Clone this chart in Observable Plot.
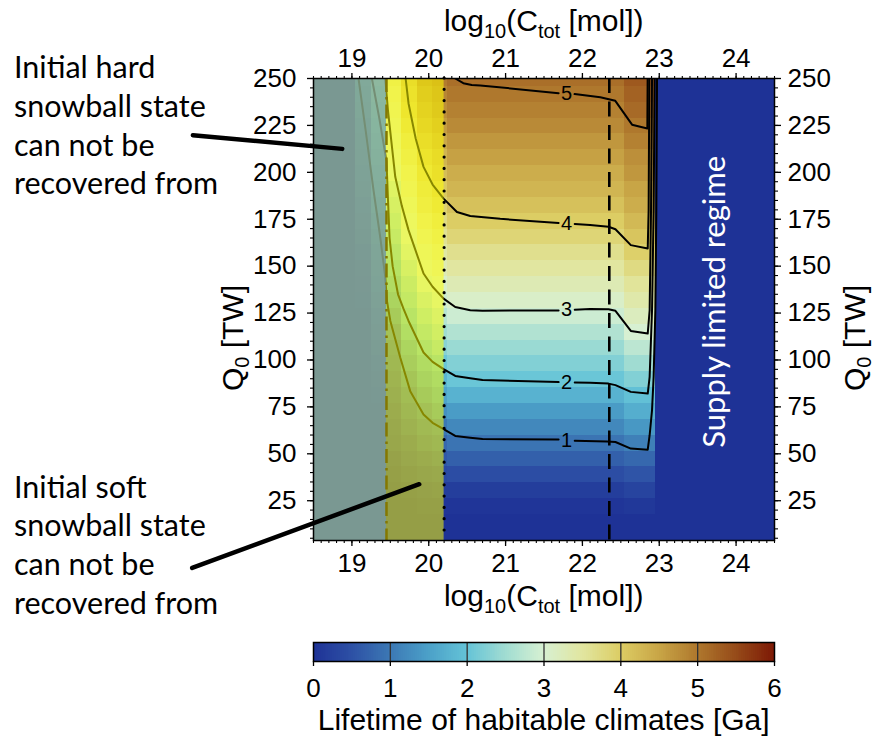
<!DOCTYPE html>
<html>
<head>
<meta charset="utf-8">
<script src="https://cdn.jsdelivr.net/npm/d3@7"></script>
<script src="https://cdn.jsdelivr.net/npm/@observablehq/plot@0.6"></script>
<style>
  body { margin: 0; background: #fff; }
  #wrap { position: relative; width: 874px; height: 742px; background: #fff; overflow: hidden; }
  #wrap svg { position: absolute; left: 0; overflow: visible; }
</style>
</head>
<body>
<div id="wrap"></div>
<script>
// ---------------- data ----------------
// Q0 grid (row centres, TW)
const qRows = [5, 13.45, 21.9, 30.34, 38.79, 47.24, 55.69, 64.14, 72.59, 81.03,
  89.48, 97.93, 106.38, 114.83, 123.28, 131.72, 140.17, 148.62, 157.07, 165.52,
  173.97, 182.41, 190.86, 199.31, 207.76, 216.21, 224.66, 233.1, 241.55, 250];
const qHalf = 4.224;

// column edges in log10(Ctot)
const colEdges = [18.45, 19.05, 19.25, 19.45, 19.65, 19.85, 20.05, 20.25, 22.55, 22.75, 22.95, 24.55];

// lifetime [Ga] per row, one array per column (group)
const lifeFarLeft = [0,0,0,0,0,0,0,0,0,0,0,0,0,0,0,0,0,0,0,0,0,0,0,0,0,0,0,0,0,0];
const life19_15 = [0,0,0,0,0,0,0,0,0,0,0,0,0,0,0.05,0.1,0.15,0.2,0.3,0.4,0.5,0.6,0.7,0.75,0.85,0.9,0.97,1.05,1.1,1.2];
const life19_35 = [0,0,0,0,0,0,0,0,0,0.1,0.2,0.3,0.4,0.5,0.6,0.7,0.8,0.9,0.95,1.05,1.2,1.35,1.5,1.6,1.7,1.85,1.95,2.05,2.15,2.25];
const life19_55 = [0,0,0,0,0.05,0.15,0.3,0.4,0.5,0.6,0.7,0.8,0.9,1.05,1.3,1.55,1.8,2.0,2.15,2.3,2.45,2.6,2.75,2.95,3.1,3.2,3.3,3.4,3.5,3.6];
const life19_75 = [0,0,0,0.05,0.2,0.35,0.5,0.65,0.8,0.95,1.15,1.4,1.6,1.85,2.05,2.25,2.4,2.6,2.8,2.95,3.1,3.25,3.4,3.5,3.65,3.75,3.9,4.05,4.15,4.25];
const life19_95 = [0,0,0.05,0.15,0.3,0.5,0.7,0.85,1.05,1.3,1.55,1.8,2.05,2.25,2.45,2.65,2.9,3.1,3.25,3.4,3.55,3.7,3.8,3.95,4.1,4.25,4.4,4.55,4.65,4.8];
const life20_15 = [0,0,0.05,0.2,0.4,0.6,0.8,1.0,1.3,1.55,1.8,2.05,2.3,2.5,2.7,2.9,3.1,3.3,3.45,3.6,3.75,3.9,4.05,4.2,4.3,4.45,4.6,4.75,4.85,4.95];
const lifePlateau = [0,0,0.05,0.2,0.45,0.7,0.95,1.2,1.45,1.75,2.05,2.25,2.45,2.65,2.9,3.1,3.3,3.5,3.65,3.85,4.0,4.15,4.3,4.4,4.55,4.65,4.8,4.9,5.0,5.1];
const lifeEdge = [0,0,0.1,0.3,0.55,0.8,1.1,1.4,1.7,1.95,2.25,2.5,2.75,3.0,3.2,3.4,3.55,3.75,3.95,4.1,4.25,4.4,4.5,4.65,4.75,4.9,5.0,5.15,5.25,5.35];
const lifeSupply = [0,0,0,0,0,0,0,0,0,0,0,0,0,0,0,0,0,0,0,0,0,0,0,0,0,0,0,0,0,0];
const columnLife = [lifeFarLeft, life19_15, life19_35, life19_55, life19_75, life19_95, life20_15,
  lifePlateau, lifeEdge, lifeEdge, lifeSupply];

// contour lines (log10 Ctot, Q0), split where the inline label sits
const c1a = [[19.086,250],[19.18,222],[19.281,190.5],[19.37,165],[19.434,144.3],[19.456,131.5],[19.5,120.8],[19.629,101.3],[19.759,83.4],[19.932,71.0],[20.05,66.5],[20.193,63.1],[20.345,59.5],[20.54,58.6],[20.7,57.9],[21.69,57.6]];
const c1b = [[21.9,57.0],[22.32,56.5],[22.43,56.3],[22.63,52.8],[22.85,52.2],[22.875,59.9],[22.906,73.2],[22.927,91.0],[22.949,126.5],[22.962,179.8],[22.971,250]];
const c2a = [[19.26,250],[19.36,228],[19.45,206],[19.47,185],[19.49,165],[19.53,150],[19.6,135],[19.672,127.2],[19.737,120.8],[19.932,104.0],[20.05,99.0],[20.193,95.1],[20.345,91.5],[20.54,90.3],[20.7,89.3],[21.69,88.2]];
const c2b = [[21.9,88.0],[22.1,87.8],[22.34,87.4],[22.43,86.6],[22.63,83.0],[22.85,82.1],[22.875,91.0],[22.906,126.5],[22.927,179.8],[22.94,250]];
const c3a = [[19.434,250],[19.469,233],[19.564,197.6],[19.65,182],[19.737,169.2],[19.932,146.1],[20.05,139],[20.193,132.7],[20.345,128.2],[20.54,126.5],[20.7,126.3],[21.69,126.4]];
const c3b = [[21.9,126.8],[22.1,127.2],[22.34,127.0],[22.43,126.2],[22.63,115.5],[22.85,114.1],[22.875,126.5],[22.893,179.9],[22.906,250]];
const c4a = [[19.699,250],[19.737,236.7],[19.83,218],[19.932,202.9],[20.05,193.5],[20.193,186.0],[20.367,178.9],[20.54,176.7],[20.93,175.2],[21.69,173.0]];
const c4b = [[21.9,172.5],[22.1,171.9],[22.34,171.0],[22.43,169.7],[22.63,161.2],[22.85,159.4],[22.862,179.9],[22.871,250]];
const c5a = [[20.345,250],[20.45,247.5],[20.56,246.5],[20.67,246.3],[21.69,242.2]];
const c5b = [[21.898,241.7],[22.233,240.0],[22.428,238.1],[22.646,225.4],[22.845,223.4],[22.849,250]];
const contourSegments = [c1a, c1b, c2a, c2b, c3a, c3b, c4a, c4b, c5a, c5b];

const contourLevels = [1, 2, 3, 4, 5];
const contourLabelX = [21.795, 21.795, 21.795, 21.795, 21.795];
const contourLabelQ = [57.3, 88.1, 126.6, 172.8, 242.0];

// regions and reference lines
const hardRegion = [18.5, 19.45];
const softRegion = [19.45, 20.2];
const dashDotX = [19.45];
const dottedX = [20.2];
const dashedX = [22.35];
const supplyLabelPos = [23.725, 131];

// pointer lines for the annotations
const pointerHard = [[16.93, 219.8], [18.874, 212.5]];
const pointerSoft = [[16.921, -10.8], [19.876, 33.8]];

// axis ticks
const xTicks = [19, 20, 21, 22, 23, 24];
const yTicks = [25, 50, 75, 100, 125, 150, 175, 200, 225, 250];
const cbTicks = [0, 1, 2, 3, 4, 5, 6];

// colour bar stops
const cbStops = [0, 0.5, 1, 1.5, 2, 2.5, 3, 3.5, 4, 4.5, 5, 5.5, 6];
const cbColors = ["#1e3296", "#2d50a5", "#3c78b4", "#4ba0c8", "#64c3d7", "#a0dcd2", "#d7f0d2",
  "#e1e6a0", "#dccd64", "#c8a546", "#af782d", "#964b19", "#7d1905"];

// ---------------- build tables ----------------
const cells = [];
columnLife.forEach((arr, ci) => {
  arr.forEach((L, ri) => {
    cells.push({x1: colEdges[ci], x2: colEdges[ci + 1], y1: qRows[ri] - qHalf, y2: qRows[ri] + qHalf, L});
  });
});
const contourPts = [];
contourSegments.forEach((seg, si) => seg.forEach(([x, q]) => contourPts.push({x, q, seg: si})));
const contourLabels = contourLevels.map((lv, i) => ({x: contourLabelX[i], q: contourLabelQ[i], t: String(lv)}));
const pointerPts = [
  ...pointerHard.map(([x, q]) => ({x, q, id: "hard"})),
  ...pointerSoft.map(([x, q]) => ({x, q, id: "soft"}))
];
const yDomain = [3.8, 250];
const colorScale = {type: "linear", domain: cbStops, range: cbColors, interpolate: "rgb"};
const font = "'Liberation Sans', Arial, Helvetica, sans-serif";
const noteFont = "Lato, 'Open Sans', sans-serif";

const minorX = d3.range(185, 246).map(d => d / 10);
const minorY = d3.range(1, 51).map(d => d * 5);

const main = Plot.plot({
  width: 874, height: 620,
  marginLeft: 313, marginRight: 100, marginTop: 78, marginBottom: 80,
  x: {domain: [18.5, 24.5]},
  y: {domain: yDomain},
  color: colorScale,
  style: {fontFamily: font, fontSize: "26px", background: "white", color: "black", overflow: "visible"},
  marks: [
    Plot.rect(cells, {x1: "x1", x2: "x2", y1: "y1", y2: "y2", fill: "L", clip: true, shapeRendering: "crispEdges"}),
    Plot.line(contourPts, {x: "x", y: "q", z: "seg", stroke: "black", strokeWidth: 2, clip: true}),
    Plot.text(contourLabels, {x: "x", y: "q", text: "t", fontSize: 20, fill: "black", fontFamily: font}),
    Plot.rect([hardRegion], {x1: d => d[0], x2: d => d[1], y1: yDomain[0], y2: yDomain[1], fill: "#91b291", fillOpacity: 0.8}),
    Plot.rect([softRegion], {x1: d => d[0], x2: d => d[1], y1: yDomain[0], y2: yDomain[1], fill: "#ffff00", fillOpacity: 0.53}),
    Plot.ruleX(dashDotX, {stroke: "#857800", strokeWidth: 2.5, strokeDasharray: "14,5,2.5,5"}),
    Plot.ruleX(dottedX, {stroke: "black", strokeWidth: 3.2, strokeDasharray: "0,11.3", strokeLinecap: "round"}),
    Plot.ruleX(dashedX, {stroke: "black", strokeWidth: 2.6, strokeDasharray: "15,8.5"}),
    Plot.text([supplyLabelPos], {x: d => d[0], y: d => d[1], text: () => "Supply limited regime", rotate: -90,
      fill: "white", fontSize: 31, fontFamily: noteFont}),
    Plot.frame({stroke: "black", strokeWidth: 1.5}),
    Plot.axisX(xTicks, {anchor: "bottom", tickSize: 6, tickPadding: 7, fontSize: 26, label: null, strokeWidth: 1.3}),
    Plot.axisX(minorX, {anchor: "bottom", tickSize: 3, tickFormat: () => "", label: null, strokeWidth: 1.1}),
    Plot.axisX(xTicks, {anchor: "top", tickSize: 6, tickPadding: 6, fontSize: 26, label: null, strokeWidth: 1.3}),
    Plot.axisX(minorX, {anchor: "top", tickSize: 3, tickFormat: () => "", label: null, strokeWidth: 1.1}),
    Plot.axisY(yTicks, {anchor: "left", tickSize: 6, tickPadding: 11, fontSize: 26, label: null, strokeWidth: 1.3}),
    Plot.axisY(minorY, {anchor: "left", tickSize: 3, tickFormat: () => "", label: null, strokeWidth: 1.1}),
    Plot.axisY(yTicks, {anchor: "right", tickSize: 6, tickPadding: 7, fontSize: 26, label: null, strokeWidth: 1.3}),
    Plot.axisY(minorY, {anchor: "right", tickSize: 3, tickFormat: () => "", label: null, strokeWidth: 1.1}),
    Plot.line(pointerPts, {x: "x", y: "q", z: "id", stroke: "black", strokeWidth: 4.5})
  ]
});
main.style.top = "0px";

// extra text: axis titles with subscripts, annotations
const svg = d3.select(main);
function ctotLabel(y) {
  const t = svg.append("text").attr("x", 543.7).attr("y", y).attr("text-anchor", "middle")
    .attr("font-family", font).attr("font-size", 30).attr("fill", "black");
  t.append("tspan").text("log");
  t.append("tspan").attr("font-size", 20).attr("dy", 7).text("10");
  t.append("tspan").attr("dy", -7).text("(C");
  t.append("tspan").attr("font-size", 20).attr("dy", 7).text("tot");
  t.append("tspan").attr("dy", -7).text(" [mol])");
}
ctotLabel(31);
ctotLabel(606);
function qLabel(x, y) {
  const t = svg.append("text").attr("transform", `translate(${x},${y}) rotate(-90)`).attr("text-anchor", "middle")
    .attr("font-family", font).attr("font-size", 30).attr("fill", "black");
  t.append("tspan").text("Q");
  t.append("tspan").attr("font-size", 20).attr("dy", 6).text("0");
  t.append("tspan").attr("dy", -6).text(" [TW]");
}
qLabel(243, 338);
qLabel(865, 338);

const noteHard = ["Initial hard", "snowball state", "can not be", "recovered from"];
const noteSoft = ["Initial soft", "snowball state", "can not be", "recovered from"];
function note(lines, y0) {
  lines.forEach((s, i) => {
    svg.append("text").attr("x", 14).attr("y", y0 + i * 38.8).attr("text-anchor", "start")
      .attr("font-family", noteFont).attr("font-size", 30.5).attr("fill", "black").text(s);
  });
}
note(noteHard, 78);
note(noteSoft, 497.5);

// ---------------- colour bar ----------------
const ramp = d3.range(0, 240).map(i => ({a: i * 6 / 240, b: (i + 1) * 6 / 240, v: (i + 0.5) * 6 / 240}));
const cb = Plot.plot({
  width: 874, height: 122,
  marginLeft: 313, marginRight: 100, marginTop: 22, marginBottom: 81,
  x: {domain: [0, 6]},
  y: {domain: [0, 1], axis: null},
  color: colorScale,
  style: {fontFamily: font, fontSize: "26px", background: "white", color: "black", overflow: "visible"},
  marks: [
    Plot.rect(ramp, {x1: "a", x2: "b", y1: 0, y2: 1, fill: "v", shapeRendering: "crispEdges"}),
    Plot.ruleX(cbTicks.slice(1, -1), {y1: 0, y2: 1, stroke: "#333", strokeWidth: 1.3}),
    Plot.frame({stroke: "black", strokeWidth: 1.5}),
    Plot.axisX(cbTicks, {anchor: "bottom", tickSize: 5, tickPadding: 12, fontSize: 26, label: null, strokeWidth: 1.3})
  ]
});
cb.style.top = "620px";
d3.select(cb).append("text").attr("x", 543.7).attr("y", 110).attr("text-anchor", "middle")
  .attr("font-family", font).attr("font-size", 30).attr("fill", "black").text("Lifetime of habitable climates [Ga]");

const wrap = document.getElementById("wrap");
wrap.appendChild(main);
wrap.appendChild(cb);
</script>
</body>
</html>
